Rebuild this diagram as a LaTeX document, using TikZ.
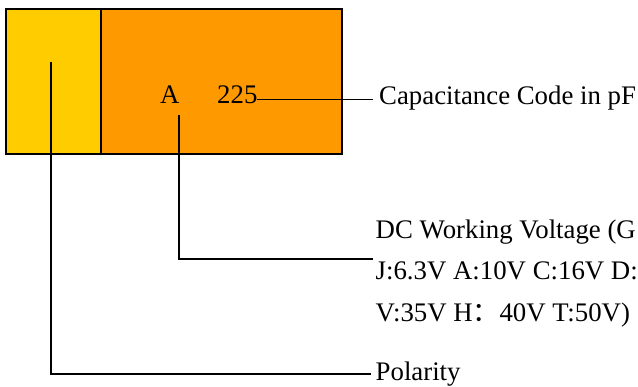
\documentclass[tikz,border=0pt]{standalone}
\usepackage{fontspec}
\setmainfont{Liberation Serif}
\newfontfamily\cjkfont{Noto Sans CJK SC}
\definecolor{capyellow}{HTML}{FFCC00}
\definecolor{caporange}{HTML}{FF9900}
\begin{document}
\begin{tikzpicture}[x=1pt,y=-1pt,
  bodybox/.style={draw=black,line width=2pt,inner sep=0pt,anchor=north west},
  lbl/.style={inner sep=0pt,anchor=base west,font=\fontsize{26.8}{32}\selectfont},
  lead/.style={draw=black,line width=1.7pt}]
\useasboundingbox (0,0) rectangle (638,387);
\node[bodybox,fill=capyellow,minimum width=95pt,minimum height=145pt] (ybox) at (5,8) {};
\node[bodybox,fill=caporange,minimum width=241pt,minimum height=145pt] (obox) at (100,8) {};
\node[lbl] (tA) at (160,104) {A};
\node[lbl] (t225) at (217,104) {225};
\node[lbl] (cap) at (379,104.5) {Capacitance Code in pF};
\node[lbl] (dc1) at (375.5,238.5) {DC Working Voltage (G};
\node[lbl] (dc2) at (375.5,280) {J:6.3V A:10V C:16V D:2};
\node[lbl] (dc3) at (375.5,322) {V:35V H{\cjkfont ：}40V T:50V)};
\node[lbl] (pol) at (375.5,380.5) {Polarity};
\coordinate (c225) at (256.5,99.5);
\coordinate (capend) at (372.5,99.5);
\coordinate (vtop) at (179,115);
\coordinate (vend) at (373,259);
\coordinate (ptop) at (51,62);
\coordinate (pend) at (371,374);
\draw[lead] (c225) -- (capend);
\draw[lead] (vtop) |- (vend);
\draw[lead] (ptop) |- (pend);
\end{tikzpicture}
\end{document}
